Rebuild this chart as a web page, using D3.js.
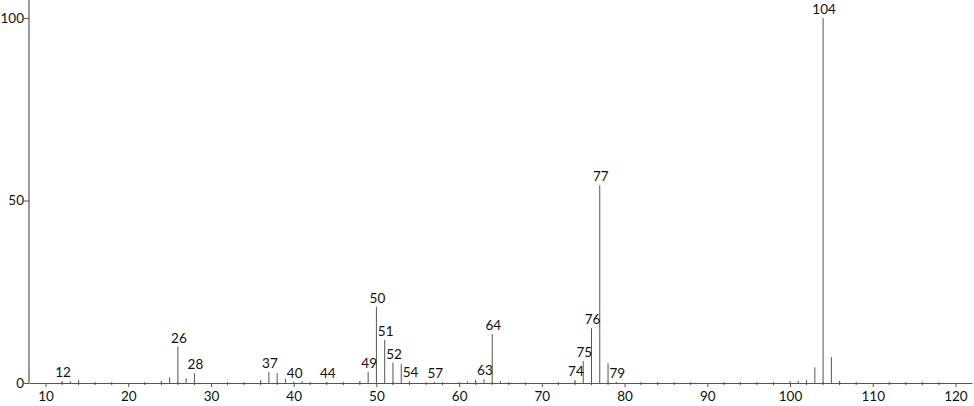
<!DOCTYPE html>
<html>
<head>
<meta charset="utf-8">
<script src="https://cdn.jsdelivr.net/npm/d3@7"></script>
<style>
  body { margin: 0; background: #fff; }
  svg text { font-family: "Lato", "Open Sans", sans-serif; font-weight: 400; fill: #111; }
</style>
</head>
<body>
<svg id="chart" width="974" height="406"></svg>
<script>
// m/z values and relative intensities
var mz = [12, 13, 14, 24, 25, 26, 27, 28, 36, 37, 38, 39, 40, 41, 44, 48, 49, 50, 51, 52, 53, 54, 57,
          60, 61, 62, 63, 64, 65, 74, 75, 76, 77, 78, 79, 100, 101, 102, 103, 104, 105, 106];
var intensity = [0.5, 0.5, 0.8, 0.5, 1.5, 10, 1.3, 2.7, 0.8, 3, 2.7, 1.2, 0.4, 0.5, 0.3, 0.5, 3, 20.9, 11.8, 5.6, 5.2, 0.5, 0.3,
                 0.3, 0.4, 0.9, 1, 13.4, 0.5, 0.8, 6, 15, 54.2, 5.4, 0.3, 0.5, 0.6, 0.8, 4.3, 100, 7.1, 0.6];
// peaks that carry a label
var labelled = [12, 26, 28, 37, 40, 44, 49, 50, 51, 52, 54, 57, 63, 64, 74, 75, 76, 77, 79, 104];
var xTicks = [10, 20, 30, 40, 50, 60, 70, 80, 90, 100, 110, 120];
var yTicks = [0, 50, 100];

var svg = d3.select("#chart");

var x = d3.scaleLinear().domain([8, 122]).range([29, 972]);
var y = d3.scaleLinear().domain([0, 100]).range([383, 18]);

var peaks = mz.map(function(m, i) { return {mz: m, v: intensity[i]}; });

// bars
svg.selectAll(".peak")
    .data(peaks)
  .enter().append("line")
    .attr("class", "peak")
    .attr("x1", function(d) { return x(d.mz); })
    .attr("x2", function(d) { return x(d.mz); })
    .attr("y1", y(0))
    .attr("y2", function(d) { return y(d.v); })
    .attr("stroke", "#555")
    .attr("stroke-width", 1);

// x axis
var minor = d3.range(10, 122, 2).filter(function(t) { return t % 10 != 0; });
svg.append("g")
    .attr("transform", "translate(0," + y(0) + ")")
    .selectAll("line.minor")
    .data(minor)
  .enter().append("line")
    .attr("x1", function(d) { return x(d); })
    .attr("x2", function(d) { return x(d); })
    .attr("y1", -1)
    .attr("y2", 2)
    .attr("stroke", "#555");

var xAxis = svg.append("g")
    .attr("transform", "translate(0," + y(0) + ")")
    .call(d3.axisBottom(x).tickValues(xTicks).tickSize(4).tickSizeOuter(0));
xAxis.select(".domain").attr("stroke", "#555");
xAxis.selectAll(".tick line").attr("stroke", "#555");
xAxis.selectAll("text").attr("font-size", 13.5).attr("dy", "0.85em").attr("fill", "#111");

// y axis
var yAxis = svg.append("g")
    .attr("transform", "translate(29,0)")
    .call(d3.axisLeft(y).tickValues(yTicks).tickSize(5).tickSizeOuter(0));
yAxis.select(".domain").attr("stroke", "#999").attr("stroke-width", 2)
    .attr("d", "M0,0V" + y(0));
yAxis.selectAll(".tick line").attr("stroke", "#555");
yAxis.selectAll("text").attr("font-size", 13.5).attr("x", -5).attr("fill", "#111");

// peak labels
svg.selectAll(".plabel")
    .data(peaks.filter(function(d) { return labelled.indexOf(d.mz) >= 0; }))
  .enter().append("text")
    .attr("class", "plabel")
    .attr("x", function(d) { return x(d.mz) + 1; })
    .attr("y", function(d) { return y(d.v) - 4; })
    .attr("text-anchor", "middle")
    .attr("font-size", 13.5)
    .text(function(d) { return d.mz; });
</script>
</body>
</html>
